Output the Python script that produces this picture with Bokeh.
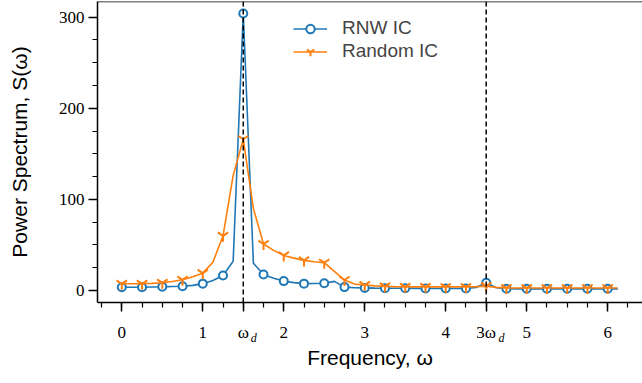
from bokeh.plotting import figure
from bokeh.models import (Range1d, FixedTicker, SingleIntervalTicker, Span, Legend,
                          LegendItem, LinearAxis, ColumnDataSource)
from bokeh.embed import file_html
from bokeh.resources import INLINE

# ---- data ----
freq = [0.0, 0.125, 0.25, 0.375, 0.5, 0.625, 0.75, 0.875, 1.0, 1.125,
        1.25, 1.375, 1.5, 1.625, 1.75, 1.875, 2.0, 2.125, 2.25, 2.375,
        2.5, 2.625, 2.75, 2.875, 3.0, 3.125, 3.25, 3.375, 3.5, 3.625,
        3.75, 3.875, 4.0, 4.125, 4.25, 4.375, 4.5, 4.625, 4.75, 4.875,
        5.0, 5.125, 5.25, 5.375, 5.5, 5.625, 5.75, 5.875, 6.0, 6.125]
rnw_ic = [3.5, 3.5, 3.6, 3.8, 4.0, 4.3, 4.6, 5.6, 7.5, 11.0,
          16.5, 32.0, 304.0, 30.0, 17.5, 13.5, 10.3, 8.6, 7.5, 7.6,
          8.0, 10.0, 3.7, 3.0, 2.8, 2.6, 2.5, 2.4, 2.4, 2.3,
          2.3, 2.2, 2.2, 2.2, 2.3, 3.2, 8.5, 3.0, 1.9, 1.8,
          1.8, 1.8, 1.8, 1.8, 1.8, 1.8, 1.8, 1.8, 1.8, 1.8]
random_ic = [7.3, 7.3, 7.3, 7.8, 8.4, 9.8, 11.7, 15.0, 19.0, 31.0,
             60.0, 126.0, 166.0, 90.0, 51.0, 44.0, 38.5, 35.5, 33.0, 31.5,
             30.5, 21.0, 11.5, 7.0, 6.0, 5.0, 4.5, 4.2, 4.0, 4.0,
             4.0, 3.9, 3.9, 3.9, 3.9, 4.2, 4.8, 3.4, 2.8, 2.7,
             2.7, 2.7, 2.7, 2.7, 2.7, 2.7, 2.7, 2.7, 2.7, 2.7]
omega_d = 1.5
x_major = [0, 1, 2, 3, 4, 5, 6]
series_labels = ["RNW IC", "Random IC"]

BLUE = "#1f77b4"
ORANGE = "#ff7f0e"
SERIF = "Liberation Serif"
SANS = "Liberation Sans"

p = figure(width=642, height=383, output_backend="svg", toolbar_location=None,
           x_range=Range1d(-0.3, 6.43), y_range=Range1d(-13.2, 317.2),
           min_border_left=97, min_border_right=0, min_border_top=1,
           min_border_bottom=81)
p.outline_line_color = None
p.xgrid.visible = False
p.ygrid.visible = False
p.background_fill_color = "white"

src_all = ColumnDataSource(dict(x=freq, a=rnw_ic, b=random_ic))
src_mk = ColumnDataSource(dict(x=freq[::2], a=rnw_ic[::2], b=random_ic[::2]))

l1 = p.line("x", "a", source=src_all, line_color=BLUE, line_width=1.6)
m1 = p.scatter("x", "a", source=src_mk, marker="circle", size=8,
               line_color=BLUE, fill_color="white", line_width=2)
l2 = p.line("x", "b", source=src_all, line_color=ORANGE, line_width=1.6)
m2 = p.scatter("x", "b", source=src_mk, marker="y", size=12,
               line_color=ORANGE, line_width=2)

for loc in (omega_d, 3 * omega_d):
    p.add_layout(Span(location=loc, dimension="height", line_color="black",
                      line_dash="5 3", line_width=1.5))
p.add_layout(Span(location=317.2, dimension="width", line_color="black",
                  line_width=1.5))

# x axis
minor = [-0.25 + 0.25 * i for i in range(27)]
p.xaxis.ticker = FixedTicker(ticks=x_major + [omega_d, 3 * omega_d], minor_ticks=minor)
p.xaxis.major_label_overrides = {omega_d: "ω", 3 * omega_d: "3ω"}
p.yaxis.axis_label = "Power Spectrum, S(ω)"
p.yaxis.ticker = SingleIntervalTicker(interval=100, num_minor_ticks=4)

for ax in (p.xaxis[0], p.yaxis[0]):
    ax.axis_line_width = 1.5
    ax.major_tick_line_width = 1.5
    ax.minor_tick_line_width = 1.2
    ax.major_tick_in = 0
    ax.major_tick_out = 9
    ax.minor_tick_in = 0
    ax.minor_tick_out = 5
    ax.major_label_text_font = SERIF
    ax.major_label_text_font_size = "17px"
    ax.major_label_text_color = "black"
    ax.axis_label_text_font = SANS
    ax.axis_label_text_font_size = "21px"
    ax.axis_label_text_font_style = "normal"
    ax.axis_label_text_color = "black"

p.xaxis.major_label_standoff = 11
p.yaxis.major_label_standoff = 4
p.yaxis.axis_label_standoff = 25

# second, line-less axis carrying the subscript "d" of the omega_d labels and the title
sub_pos = [1.63, 4.69]
sub_axis = LinearAxis(ticker=FixedTicker(ticks=sub_pos, minor_ticks=[]),
                      major_label_overrides={sub_pos[0]: "d", sub_pos[1]: "d"},
                      axis_line_color=None, major_tick_line_color=None,
                      minor_tick_line_color=None,
                      major_label_text_font=SERIF,
                      major_label_text_font_style="italic",
                      major_label_text_font_size="12px",
                      major_label_text_color="black",
                      major_label_standoff=-20,
                      axis_label="Frequency, ω",
                      axis_label_text_font=SANS,
                      axis_label_text_font_size="21px",
                      axis_label_text_font_style="normal",
                      axis_label_text_color="black",
                      axis_label_standoff=-2)
p.add_layout(sub_axis, "below")

legend = Legend(items=[LegendItem(label=series_labels[0], renderers=[l1, m1]),
                       LegendItem(label=series_labels[1], renderers=[l2, m2])],
                location=(196, 240))
legend.background_fill_alpha = 0
legend.border_line_color = None
legend.padding = 0
legend.margin = 0
legend.spacing = 1
legend.glyph_width = 34
legend.glyph_height = 21
legend.label_height = 21
legend.label_standoff = 15
legend.label_text_font = SANS
legend.label_text_font_size = "19px"
p.add_layout(legend)

open("out.html", "w").write(file_html(p, INLINE))
